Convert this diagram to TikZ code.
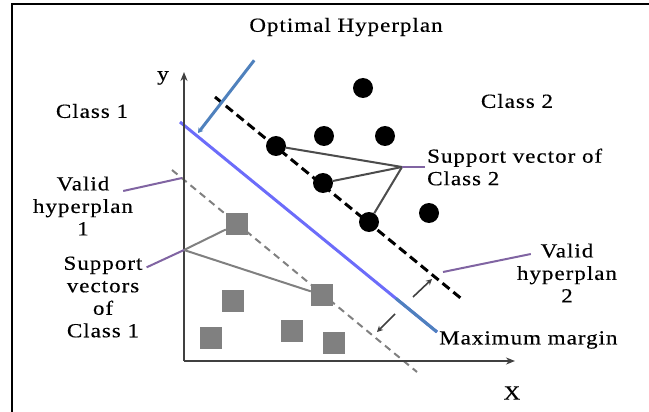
\documentclass[tikz,border=0pt]{standalone}
\usepackage{fontspec}
\setmainfont{Liberation Serif}[FakeStretch=1.15,LetterSpace=5,FakeBold=0.4]
\usetikzlibrary{arrows.meta,calc}
\definecolor{accblue}{RGB}{79,129,189}
\definecolor{accpurple}{RGB}{128,100,162}
\definecolor{planeblue}{RGB}{108,108,250}

\begin{document}
\begin{tikzpicture}[x=1pt,y=-1pt,font=\fontsize{20}{22.5}\selectfont,
  dot/.style={circle,fill=black,inner sep=0pt,minimum size=20pt},
  sq/.style={rectangle,fill=gray,inner sep=0pt,minimum size=22pt},
  lbl/.style={align=center,inner sep=2pt},
  lead/.style={accpurple,line width=2pt},
  axis/.style={black!75,line width=2.5pt,-{Stealth[length=9pt,width=7pt]}},
  marg/.style={black!75,line width=1.6pt,-{Stealth[length=6pt,width=6pt]}},
  sv/.style={line width=2pt}]
 \useasboundingbox (0,0) rectangle (649,412);
 \draw[line width=2pt] (11.5,412)--(11.5,4.5)--(649,4.5);
 % hyperplanes
 \coordinate (h1a) at (172,170);\coordinate (h1b) at (417,372);
 \coordinate (h2a) at (215,97);\coordinate (h2b) at (463,300);
 \coordinate (b1) at (180,122);\coordinate (b2) at (437,332);
 \draw[gray,line width=2pt,dash pattern=on 7pt off 5pt] (h1a)--(h1b);
 \draw[black,line width=3pt,dash pattern=on 9pt off 5pt] (h2a)--(h2b);
 \draw[planeblue,line width=3pt] (b1)--(b2);
 \draw[accblue,line width=3pt] ($(b1)!0.84!(b2)$)--(b2);
 % axes
 \coordinate (o) at (184,361);\coordinate (ytip) at (184,72);\coordinate (xtip) at (515,361);
 \draw[axis] (o)--(ytip);\draw[axis] (o)--(xtip);
 \node (ylab) at (163,78) {y};
 \node (xlab) at (512,393) {X};
 % class 2 points and class 1 points
 \foreach \n/\x/\y in {c1/363/88,c2/324/136,c3/385/136,c4/276/146,c5/323/183,c6/369/222,c7/429/213}
  \node[dot] (\n) at (\x,\y) {};
 \foreach \n/\x/\y in {s1/237/224,s2/322/295,s3/233/301,s4/211/338,s5/292/331,s6/334/343}
  \node[sq] (\n) at (\x,\y) {};
 % support vectors
 \coordinate (j2) at (402,167);\coordinate (j1) at (184,250);
 \foreach \c in {c4,c5,c6}{\draw[sv,black!70] (j2)--(\c);}
 \foreach \s in {s1,s2}{\draw[sv,gray] (j1)--(\s);}
 % margin
 \coordinate (m1a) at (413,297);\coordinate (m1b) at (432,279);
 \coordinate (m2a) at (395,314);\coordinate (m2b) at (377,332);
 \draw[marg] (m1a)--(m1b);\draw[marg] (m2a)--(m2b);
 % labels
 \node[lbl] (opt) at (346,27) {Optimal Hyperplan};
 \node[lbl] (cl1) at (92,111) {Class 1};
 \node[lbl] (cl2) at (517,101) {Class 2};
 \node[lbl] (vh1) at (83,206) {Valid\\hyperplan\\1};
 \node[lbl] (sv1) at (103,297) {Support\\vectors\\of\\Class 1};
 \node[lbl,align=left,anchor=west] (sv2) at (425,167) {Support vector of\\Class 2};
 \node[lbl] (vh2) at (567,273) {Valid\\hyperplan\\2};
 \node[lbl,anchor=west] (mm) at (437,340) {Maximum margin};
 \coordinate (oh) at (198,133);\coordinate (g1) at (182,178);\coordinate (k2) at (443,272);
 \draw[accblue,line width=3pt,-{Stealth[length=5pt,width=6pt]}] ([shift={(7,22)}]opt.south west)--(oh);
 \draw[lead] ([shift={(-12,-15)}]vh1.east)--(g1);
 \draw[lead] ([shift={(2,13)}]sv1.north east)--(j1);
 \draw[lead] (sv2.west)--(j2);
 \draw[lead] ([shift={(16,-19)}]vh2.west)--(k2);
\end{tikzpicture}
\end{document}
